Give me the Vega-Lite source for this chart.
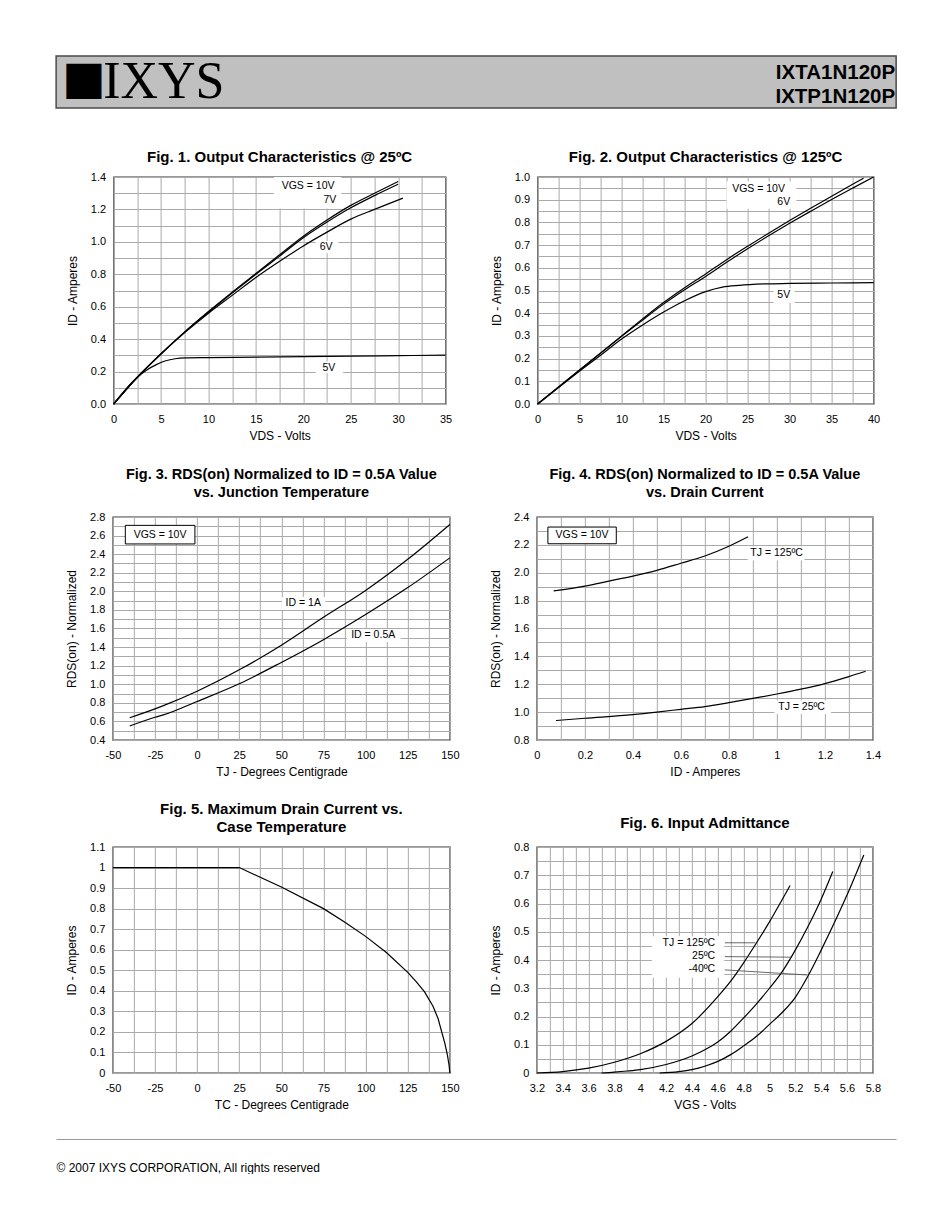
{
  "$schema": "https://vega.github.io/schema/vega-lite/v6.json",
  "background": "white",
  "padding": {"left": 55, "top": 55, "right": 0, "bottom": 0},
  "config": {
    "font": "Liberation Sans",
    "view": {"stroke": "#333", "strokeWidth": 1.3},
    "axis": {"grid": true, "gridColor": "#aaa", "gridWidth": 1, "ticks": false, "domain": false, "labelFont": "Liberation Sans", "labelFontSize": 11, "labelColor": "#000", "titleFont": "Liberation Sans", "titleFontSize": 12, "titleFontWeight": "normal", "titleColor": "#000", "labelOverlap": false, "labelFlush": false, "labelBound": false},
    "axisX": {"labelPadding": 9, "titlePadding": 6},
    "axisY": {"labelPadding": 8, "titlePadding": 11},
    "title": {"font": "Liberation Sans", "fontSize": 15, "fontWeight": "bold", "color": "#000", "lineHeight": 18, "anchor": "middle", "frame": "group"},
    "line": {"color": "#000", "strokeWidth": 1.2},
    "text": {"font": "Liberation Sans", "fontSize": 10.5, "color": "#000"}
  },
  "datasets": {
    "header": [
      {"part": "mark", "side": "left", "t": "■"},
      {"part": "name", "side": "left", "t": "IXYS"},
      {"part": "pn", "side": "right", "t": ["IXTA1N120P", "IXTP1N120P"]},
      {"part": "pad", "side": "right", "t": "."}
    ],
    "f1": [
      {"s": "10V", "x": 0, "y": 0}, {"s": "10V", "x": 2.5, "y": 0.165}, {"s": "10V", "x": 5, "y": 0.31}, {"s": "10V", "x": 7.5, "y": 0.445}, {"s": "10V", "x": 10, "y": 0.57}, {"s": "10V", "x": 12.5, "y": 0.69}, {"s": "10V", "x": 15, "y": 0.805}, {"s": "10V", "x": 17.5, "y": 0.92}, {"s": "10V", "x": 20, "y": 1.035}, {"s": "10V", "x": 22.5, "y": 1.135}, {"s": "10V", "x": 25, "y": 1.225}, {"s": "10V", "x": 27.5, "y": 1.3}, {"s": "10V", "x": 30, "y": 1.372},
      {"s": "7V", "x": 0, "y": 0}, {"s": "7V", "x": 2.5, "y": 0.165}, {"s": "7V", "x": 5, "y": 0.31}, {"s": "7V", "x": 7.5, "y": 0.445}, {"s": "7V", "x": 10, "y": 0.567}, {"s": "7V", "x": 12.5, "y": 0.685}, {"s": "7V", "x": 15, "y": 0.8}, {"s": "7V", "x": 17.5, "y": 0.912}, {"s": "7V", "x": 20, "y": 1.025}, {"s": "7V", "x": 22.5, "y": 1.122}, {"s": "7V", "x": 25, "y": 1.21}, {"s": "7V", "x": 27.5, "y": 1.285}, {"s": "7V", "x": 30, "y": 1.355},
      {"s": "6V", "x": 0, "y": 0}, {"s": "6V", "x": 2.5, "y": 0.165}, {"s": "6V", "x": 5, "y": 0.308}, {"s": "6V", "x": 7.5, "y": 0.44}, {"s": "6V", "x": 10, "y": 0.56}, {"s": "6V", "x": 12.5, "y": 0.67}, {"s": "6V", "x": 15, "y": 0.78}, {"s": "6V", "x": 17.5, "y": 0.88}, {"s": "6V", "x": 20, "y": 0.975}, {"s": "6V", "x": 22.5, "y": 1.06}, {"s": "6V", "x": 25, "y": 1.14}, {"s": "6V", "x": 27.5, "y": 1.2}, {"s": "6V", "x": 30.5, "y": 1.27},
      {"s": "5V", "x": 0, "y": 0}, {"s": "5V", "x": 2.5, "y": 0.165}, {"s": "5V", "x": 3.5, "y": 0.21}, {"s": "5V", "x": 4.5, "y": 0.243}, {"s": "5V", "x": 5.5, "y": 0.267}, {"s": "5V", "x": 6.5, "y": 0.279}, {"s": "5V", "x": 7.5, "y": 0.284}, {"s": "5V", "x": 10, "y": 0.286}, {"s": "5V", "x": 15, "y": 0.289}, {"s": "5V", "x": 20, "y": 0.292}, {"s": "5V", "x": 25, "y": 0.295}, {"s": "5V", "x": 30, "y": 0.298}, {"s": "5V", "x": 35, "y": 0.302}
    ],
    "f1bg": [
      {"x": 16.9, "x2": 24.0, "y": 1.205, "y2": 1.4},
      {"x": 21.3, "x2": 23.7, "y": 0.93, "y2": 1.005},
      {"x": 21.3, "x2": 24.2, "y": 0.19, "y2": 0.262}
    ],
    "f1lab": [
      {"x": 20.5, "y": 1.342, "t": "VGS = 10V"},
      {"x": 22.8, "y": 1.257, "t": "7V"},
      {"x": 22.4, "y": 0.968, "t": "6V"},
      {"x": 22.7, "y": 0.225, "t": "5V"}
    ],
    "f2": [
      {"s": "10V", "x": 0, "y": 0}, {"s": "10V", "x": 2.5, "y": 0.075}, {"s": "10V", "x": 5, "y": 0.15}, {"s": "10V", "x": 7.5, "y": 0.225}, {"s": "10V", "x": 10, "y": 0.3}, {"s": "10V", "x": 12.5, "y": 0.375}, {"s": "10V", "x": 15, "y": 0.447}, {"s": "10V", "x": 17.5, "y": 0.512}, {"s": "10V", "x": 20, "y": 0.573}, {"s": "10V", "x": 22.5, "y": 0.636}, {"s": "10V", "x": 25, "y": 0.695}, {"s": "10V", "x": 27.5, "y": 0.752}, {"s": "10V", "x": 30, "y": 0.808}, {"s": "10V", "x": 32.5, "y": 0.862}, {"s": "10V", "x": 35, "y": 0.915}, {"s": "10V", "x": 37.5, "y": 0.968}, {"s": "10V", "x": 38.8, "y": 0.995},
      {"s": "6V", "x": 0, "y": 0}, {"s": "6V", "x": 2.5, "y": 0.075}, {"s": "6V", "x": 5, "y": 0.15}, {"s": "6V", "x": 7.5, "y": 0.224}, {"s": "6V", "x": 10, "y": 0.298}, {"s": "6V", "x": 12.5, "y": 0.37}, {"s": "6V", "x": 15, "y": 0.44}, {"s": "6V", "x": 17.5, "y": 0.503}, {"s": "6V", "x": 20, "y": 0.562}, {"s": "6V", "x": 22.5, "y": 0.624}, {"s": "6V", "x": 25, "y": 0.684}, {"s": "6V", "x": 27.5, "y": 0.741}, {"s": "6V", "x": 30, "y": 0.796}, {"s": "6V", "x": 32.5, "y": 0.849}, {"s": "6V", "x": 35, "y": 0.901}, {"s": "6V", "x": 37.5, "y": 0.951}, {"s": "6V", "x": 40, "y": 1.0},
      {"s": "5V", "x": 0, "y": 0}, {"s": "5V", "x": 2.5, "y": 0.073}, {"s": "5V", "x": 5, "y": 0.145}, {"s": "5V", "x": 7.5, "y": 0.215}, {"s": "5V", "x": 10, "y": 0.286}, {"s": "5V", "x": 12.5, "y": 0.348}, {"s": "5V", "x": 15, "y": 0.405}, {"s": "5V", "x": 17.5, "y": 0.455}, {"s": "5V", "x": 20, "y": 0.495}, {"s": "5V", "x": 22, "y": 0.515}, {"s": "5V", "x": 24, "y": 0.523}, {"s": "5V", "x": 27, "y": 0.529}, {"s": "5V", "x": 30, "y": 0.531}, {"s": "5V", "x": 35, "y": 0.533}, {"s": "5V", "x": 40, "y": 0.535}
    ],
    "f2bg": [
      {"x": 22.5, "x2": 30.8, "y": 0.86, "y2": 0.98},
      {"x": 28.1, "x2": 30.6, "y": 0.445, "y2": 0.51}
    ],
    "f2lab": [
      {"x": 26.3, "y": 0.948, "t": "VGS = 10V"},
      {"x": 29.3, "y": 0.891, "t": "6V"},
      {"x": 29.3, "y": 0.48, "t": "5V"}
    ],
    "f3": [
      {"s": "1A", "x": -40, "y": 0.64}, {"s": "1A", "x": -25, "y": 0.735}, {"s": "1A", "x": -20, "y": 0.77}, {"s": "1A", "x": 0, "y": 0.925}, {"s": "1A", "x": 25, "y": 1.155}, {"s": "1A", "x": 50, "y": 1.42}, {"s": "1A", "x": 75, "y": 1.72}, {"s": "1A", "x": 100, "y": 2.01}, {"s": "1A", "x": 125, "y": 2.345}, {"s": "1A", "x": 150, "y": 2.72},
      {"s": "0.5A", "x": -40, "y": 0.55}, {"s": "0.5A", "x": -25, "y": 0.645}, {"s": "0.5A", "x": -20, "y": 0.67}, {"s": "0.5A", "x": 0, "y": 0.815}, {"s": "0.5A", "x": 25, "y": 1.005}, {"s": "0.5A", "x": 50, "y": 1.235}, {"s": "0.5A", "x": 75, "y": 1.48}, {"s": "0.5A", "x": 100, "y": 1.75}, {"s": "0.5A", "x": 125, "y": 2.04}, {"s": "0.5A", "x": 150, "y": 2.36}
    ],
    "f3bg": [
      {"x": 50.3, "x2": 76.1, "y": 1.8, "y2": 1.94},
      {"x": 89, "x2": 120.8, "y": 1.455, "y2": 1.595}
    ],
    "f3box": [
      {"x": -42.6, "x2": -1.3, "y": 2.51, "y2": 2.71}
    ],
    "f3lab": [
      {"x": 63, "y": 1.878, "t": "ID = 1A"},
      {"x": 104.5, "y": 1.53, "t": "ID = 0.5A"},
      {"x": -22, "y": 2.61, "t": "VGS = 10V"}
    ],
    "f4": [
      {"s": "125", "x": 0.07, "y": 1.87}, {"s": "125", "x": 0.2, "y": 1.904}, {"s": "125", "x": 0.3, "y": 1.94}, {"s": "125", "x": 0.4, "y": 1.976}, {"s": "125", "x": 0.5, "y": 2.017}, {"s": "125", "x": 0.6, "y": 2.068}, {"s": "125", "x": 0.7, "y": 2.12}, {"s": "125", "x": 0.8, "y": 2.19}, {"s": "125", "x": 0.88, "y": 2.258},
      {"s": "25", "x": 0.08, "y": 0.94}, {"s": "25", "x": 0.2, "y": 0.956}, {"s": "25", "x": 0.4, "y": 0.982}, {"s": "25", "x": 0.5, "y": 1.0}, {"s": "25", "x": 0.6, "y": 1.02}, {"s": "25", "x": 0.7, "y": 1.04}, {"s": "25", "x": 0.8, "y": 1.068}, {"s": "25", "x": 0.9, "y": 1.098}, {"s": "25", "x": 1.0, "y": 1.13}, {"s": "25", "x": 1.1, "y": 1.165}, {"s": "25", "x": 1.2, "y": 1.205}, {"s": "25", "x": 1.3, "y": 1.255}, {"s": "25", "x": 1.37, "y": 1.293}
    ],
    "f4bg": [
      {"x": 0.879, "x2": 1.115, "y": 2.089, "y2": 2.189},
      {"x": 0.99, "x2": 1.226, "y": 0.987, "y2": 1.083}
    ],
    "f4box": [
      {"x": 0.046, "x2": 0.331, "y": 2.208, "y2": 2.328}
    ],
    "f4lab": [
      {"x": 0.999, "y": 2.144, "t": "TJ = 125ºC"},
      {"x": 1.103, "y": 1.039, "t": "TJ = 25ºC"},
      {"x": 0.188, "y": 2.268, "t": "VGS = 10V"}
    ],
    "f5": [
      {"x": -50, "y": 1.0}, {"x": 25, "y": 1.0}, {"x": 50, "y": 0.905}, {"x": 75, "y": 0.8}, {"x": 87.5, "y": 0.735}, {"x": 100, "y": 0.665}, {"x": 112.5, "y": 0.585}, {"x": 125, "y": 0.49}, {"x": 130, "y": 0.445}, {"x": 135, "y": 0.395}, {"x": 140, "y": 0.325}, {"x": 143, "y": 0.265}, {"x": 145, "y": 0.205}, {"x": 147, "y": 0.145}, {"x": 148.5, "y": 0.09}, {"x": 149.5, "y": 0.04}, {"x": 150, "y": 0.0}
    ],
    "f6": [
      {"s": "125", "x": 3.2, "y": 0}, {"s": "125", "x": 3.4, "y": 0.005}, {"s": "125", "x": 3.6, "y": 0.017}, {"s": "125", "x": 3.8, "y": 0.038}, {"s": "125", "x": 4.0, "y": 0.068}, {"s": "125", "x": 4.2, "y": 0.112}, {"s": "125", "x": 4.4, "y": 0.175}, {"s": "125", "x": 4.6, "y": 0.27}, {"s": "125", "x": 4.7, "y": 0.325}, {"s": "125", "x": 4.8, "y": 0.39}, {"s": "125", "x": 4.9, "y": 0.461}, {"s": "125", "x": 5.0, "y": 0.535}, {"s": "125", "x": 5.1, "y": 0.615}, {"s": "125", "x": 5.16, "y": 0.664},
      {"s": "25", "x": 3.7, "y": 0}, {"s": "25", "x": 3.8, "y": 0.003}, {"s": "25", "x": 3.9, "y": 0.007}, {"s": "25", "x": 4.0, "y": 0.012}, {"s": "25", "x": 4.2, "y": 0.03}, {"s": "25", "x": 4.4, "y": 0.06}, {"s": "25", "x": 4.5, "y": 0.082}, {"s": "25", "x": 4.6, "y": 0.11}, {"s": "25", "x": 4.7, "y": 0.148}, {"s": "25", "x": 4.8, "y": 0.195}, {"s": "25", "x": 4.9, "y": 0.245}, {"s": "25", "x": 5.0, "y": 0.3}, {"s": "25", "x": 5.1, "y": 0.36}, {"s": "25", "x": 5.2, "y": 0.435}, {"s": "25", "x": 5.3, "y": 0.52}, {"s": "25", "x": 5.4, "y": 0.615}, {"s": "25", "x": 5.49, "y": 0.713},
      {"s": "-40", "x": 4.15, "y": 0}, {"s": "-40", "x": 4.3, "y": 0.005}, {"s": "-40", "x": 4.4, "y": 0.012}, {"s": "-40", "x": 4.5, "y": 0.024}, {"s": "-40", "x": 4.6, "y": 0.041}, {"s": "-40", "x": 4.7, "y": 0.065}, {"s": "-40", "x": 4.8, "y": 0.096}, {"s": "-40", "x": 4.9, "y": 0.13}, {"s": "-40", "x": 5.0, "y": 0.172}, {"s": "-40", "x": 5.1, "y": 0.215}, {"s": "-40", "x": 5.2, "y": 0.268}, {"s": "-40", "x": 5.3, "y": 0.345}, {"s": "-40", "x": 5.4, "y": 0.435}, {"s": "-40", "x": 5.5, "y": 0.53}, {"s": "-40", "x": 5.6, "y": 0.63}, {"s": "-40", "x": 5.73, "y": 0.772}
    ],
    "f6bg": [
      {"x": 4.09, "x2": 4.65, "y": 0.337, "y2": 0.484}
    ],
    "f6lead": [
      {"x": 4.655, "x2": 4.89, "y": 0.461, "y2": 0.461},
      {"x": 4.655, "x2": 5.17, "y": 0.412, "y2": 0.41},
      {"x": 4.655, "x2": 5.29, "y": 0.365, "y2": 0.347}
    ],
    "f6lab": [
      {"x": 4.58, "y": 0.459, "t": "TJ = 125ºC"},
      {"x": 4.58, "y": 0.413, "t": "25ºC"},
      {"x": 4.58, "y": 0.367, "t": "-40ºC"}
    ],
    "footer": [{"t": "."}]
  },
  "vconcat": [
    {
      "width": 840,
      "height": 52,
      "view": {"fill": "#c0c0c0", "stroke": "#4a4a4a", "strokeWidth": 1.5},
      "data": {"name": "header"},
      "encoding": {
        "x": {"field": "side", "type": "nominal", "scale": {"type": "point", "domain": ["left", "right"], "padding": 0}, "axis": null},
        "text": {"field": "t", "type": "nominal"}
      },
      "layer": [
        {"transform": [{"filter": "datum.part == 'mark'"}], "mark": {"type": "text", "font": "DejaVu Sans", "fontSize": 46, "align": "left", "baseline": "middle", "dx": 6, "dy": -3, "color": "#000"}},
        {"transform": [{"filter": "datum.part == 'name'"}], "mark": {"type": "text", "font": "Liberation Serif", "fontSize": 52, "align": "left", "baseline": "middle", "dx": 47, "dy": 0, "color": "#000"}},
        {"transform": [{"filter": "datum.part == 'pn'"}], "mark": {"type": "text", "font": "Liberation Sans", "fontWeight": "bold", "fontSize": 20.5, "align": "right", "baseline": "middle", "dx": -1, "dy": -9, "lineHeight": 24, "color": "#000"}},
        {"transform": [{"filter": "datum.part == 'pad'"}], "mark": {"type": "text", "fontSize": 10, "align": "right", "baseline": "middle", "dx": 41, "opacity": 0}}
      ]
    },
    {
      "hconcat": [
        {
          "width": 332,
          "height": 227,
          "title": {"text": ["", "Fig. 1. Output Characteristics @ 25ºC"], "offset": 6, "lineHeight": 17},
          "encoding": {
            "x": {"field": "x", "type": "quantitative", "scale": {"domain": [0, 35], "nice": false, "zero": false}, "axis": {"title": "VDS - Volts", "values": [0, 2.5, 5, 7.5, 10, 12.5, 15, 17.5, 20, 22.5, 25, 27.5, 30, 32.5, 35], "labelExpr": "datum.value % 5 == 0 ? '' + datum.value : ''"}},
            "y": {"field": "y", "type": "quantitative", "scale": {"domain": [0, 1.4], "nice": false, "zero": false}, "axis": {"title": "ID - Amperes", "values": [0, 0.1, 0.2, 0.3, 0.4, 0.5, 0.6, 0.7, 0.8, 0.9, 1.0, 1.1, 1.2, 1.3, 1.4], "labelExpr": "abs(datum.value * 5 - round(datum.value * 5)) < 0.000001 ? format(datum.value, '.1f') : ''"}}
          },
          "layer": [
            {"data": {"name": "f1bg"}, "mark": {"type": "rect", "color": "white"}, "encoding": {"x2": {"field": "x2"}, "y2": {"field": "y2"}}},
            {"data": {"name": "f1"}, "mark": {"type": "line", "interpolate": "monotone"}, "encoding": {"detail": {"field": "s", "type": "nominal"}}},
            {"data": {"name": "f1lab"}, "mark": {"type": "text", "align": "center", "baseline": "middle"}, "encoding": {"text": {"field": "t", "type": "nominal"}}}
          ]
        },
        {
          "width": 336,
          "height": 227,
          "title": {"text": ["", "Fig. 2. Output Characteristics @ 125ºC"], "offset": 6, "lineHeight": 17},
          "encoding": {
            "x": {"field": "x", "type": "quantitative", "scale": {"domain": [0, 40], "nice": false, "zero": false}, "axis": {"title": "VDS - Volts", "values": [0, 2.5, 5, 7.5, 10, 12.5, 15, 17.5, 20, 22.5, 25, 27.5, 30, 32.5, 35, 37.5, 40], "labelExpr": "datum.value % 5 == 0 ? '' + datum.value : ''"}},
            "y": {"field": "y", "type": "quantitative", "scale": {"domain": [0, 1.0], "nice": false, "zero": false}, "axis": {"title": "ID - Amperes", "values": [0, 0.05, 0.1, 0.15, 0.2, 0.25, 0.3, 0.35, 0.4, 0.45, 0.5, 0.55, 0.6, 0.65, 0.7, 0.75, 0.8, 0.85, 0.9, 0.95, 1.0], "labelExpr": "abs(datum.value * 10 - round(datum.value * 10)) < 0.000001 ? format(datum.value, '.1f') : ''"}}
          },
          "layer": [
            {"data": {"name": "f2bg"}, "mark": {"type": "rect", "color": "white"}, "encoding": {"x2": {"field": "x2"}, "y2": {"field": "y2"}}},
            {"data": {"name": "f2"}, "mark": {"type": "line", "interpolate": "monotone"}, "encoding": {"detail": {"field": "s", "type": "nominal"}}},
            {"data": {"name": "f2lab"}, "mark": {"type": "text", "align": "center", "baseline": "middle"}, "encoding": {"text": {"field": "t", "type": "nominal"}}}
          ]
        }
      ],
      "spacing": 92,
      "bounds": "flush"
    },
    {
      "hconcat": [
        {
          "width": 337,
          "height": 223,
          "title": {"text": ["Fig. 3. RDS(on) Normalized to ID = 0.5A Value", "vs. Junction Temperature"], "offset": 11, "fontSize": 14.5},
          "encoding": {
            "x": {"field": "x", "type": "quantitative", "scale": {"domain": [-50, 150], "nice": false, "zero": false}, "axis": {"title": "TJ - Degrees Centigrade", "values": [-50, -37.5, -25, -12.5, 0, 12.5, 25, 37.5, 50, 62.5, 75, 87.5, 100, 112.5, 125, 137.5, 150], "labelExpr": "datum.value % 25 == 0 ? '' + datum.value : ''"}},
            "y": {"field": "y", "type": "quantitative", "scale": {"domain": [0.4, 2.8], "nice": false, "zero": false}, "axis": {"title": "RDS(on) - Normalized", "values": [0.4, 0.5, 0.6, 0.7, 0.8, 0.9, 1.0, 1.1, 1.2, 1.3, 1.4, 1.5, 1.6, 1.7, 1.8, 1.9, 2.0, 2.1, 2.2, 2.3, 2.4, 2.5, 2.6, 2.7, 2.8], "labelExpr": "abs(datum.value * 5 - round(datum.value * 5)) < 0.000001 ? format(datum.value, '.1f') : ''"}}
          },
          "layer": [
            {"data": {"name": "f3bg"}, "mark": {"type": "rect", "color": "white"}, "encoding": {"x2": {"field": "x2"}, "y2": {"field": "y2"}}},
            {"data": {"name": "f3box"}, "mark": {"type": "rect", "fill": "white", "stroke": "#000", "strokeWidth": 1}, "encoding": {"x2": {"field": "x2"}, "y2": {"field": "y2"}}},
            {"data": {"name": "f3"}, "mark": {"type": "line", "interpolate": "monotone"}, "encoding": {"detail": {"field": "s", "type": "nominal"}}},
            {"data": {"name": "f3lab"}, "mark": {"type": "text", "align": "center", "baseline": "middle"}, "encoding": {"text": {"field": "t", "type": "nominal"}}}
          ]
        },
        {
          "width": 336,
          "height": 223,
          "title": {"text": ["Fig. 4. RDS(on) Normalized to ID = 0.5A Value", "vs. Drain Current"], "offset": 11, "fontSize": 14.5},
          "encoding": {
            "x": {"field": "x", "type": "quantitative", "scale": {"domain": [0, 1.4], "nice": false, "zero": false}, "axis": {"title": "ID - Amperes", "values": [0, 0.1, 0.2, 0.3, 0.4, 0.5, 0.6, 0.7, 0.8, 0.9, 1.0, 1.1, 1.2, 1.3, 1.4], "labelExpr": "abs(datum.value * 5 - round(datum.value * 5)) < 0.000001 ? '' + datum.value : ''"}},
            "y": {"field": "y", "type": "quantitative", "scale": {"domain": [0.8, 2.4], "nice": false, "zero": false}, "axis": {"title": "RDS(on) - Normalized", "values": [0.8, 0.9, 1.0, 1.1, 1.2, 1.3, 1.4, 1.5, 1.6, 1.7, 1.8, 1.9, 2.0, 2.1, 2.2, 2.3, 2.4], "labelExpr": "abs(datum.value * 5 - round(datum.value * 5)) < 0.000001 ? format(datum.value, '.1f') : ''"}}
          },
          "layer": [
            {"data": {"name": "f4bg"}, "mark": {"type": "rect", "color": "white"}, "encoding": {"x2": {"field": "x2"}, "y2": {"field": "y2"}}},
            {"data": {"name": "f4box"}, "mark": {"type": "rect", "fill": "white", "stroke": "#000", "strokeWidth": 1}, "encoding": {"x2": {"field": "x2"}, "y2": {"field": "y2"}}},
            {"data": {"name": "f4"}, "mark": {"type": "line", "interpolate": "monotone"}, "encoding": {"detail": {"field": "s", "type": "nominal"}}},
            {"data": {"name": "f4lab"}, "mark": {"type": "text", "align": "center", "baseline": "middle"}, "encoding": {"text": {"field": "t", "type": "nominal"}}}
          ]
        }
      ],
      "spacing": 87,
      "bounds": "flush"
    },
    {
      "hconcat": [
        {
          "width": 337,
          "height": 226,
          "title": {"text": ["Fig. 5. Maximum Drain Current vs.", "Case Temperature"], "offset": 6},
          "data": {"name": "f5"},
          "mark": {"type": "line"},
          "encoding": {
            "x": {"field": "x", "type": "quantitative", "scale": {"domain": [-50, 150], "nice": false, "zero": false}, "axis": {"title": "TC - Degrees Centigrade", "values": [-50, -37.5, -25, -12.5, 0, 12.5, 25, 37.5, 50, 62.5, 75, 87.5, 100, 112.5, 125, 137.5, 150], "labelExpr": "datum.value % 25 == 0 ? '' + datum.value : ''"}},
            "y": {"field": "y", "type": "quantitative", "scale": {"domain": [0, 1.1], "nice": false, "zero": false}, "axis": {"title": "ID - Amperes", "values": [0, 0.1, 0.2, 0.3, 0.4, 0.5, 0.6, 0.7, 0.8, 0.9, 1, 1.1], "labelExpr": "'' + datum.value"}}
          }
        },
        {
          "width": 336,
          "height": 226,
          "title": {"text": "Fig. 6. Input Admittance", "offset": 10},
          "encoding": {
            "x": {"field": "x", "type": "quantitative", "scale": {"domain": [3.2, 5.8], "nice": false, "zero": false}, "axis": {"title": "VGS - Volts", "values": [3.2, 3.3, 3.4, 3.5, 3.6, 3.7, 3.8, 3.9, 4, 4.1, 4.2, 4.3, 4.4, 4.5, 4.6, 4.7, 4.8, 4.9, 5, 5.1, 5.2, 5.3, 5.4, 5.5, 5.6, 5.7, 5.8], "labelExpr": "abs(datum.value * 5 - round(datum.value * 5)) < 0.000001 ? '' + datum.value : ''"}},
            "y": {"field": "y", "type": "quantitative", "scale": {"domain": [0, 0.8], "nice": false, "zero": false}, "axis": {"title": "ID - Amperes", "values": [0, 0.05, 0.1, 0.15, 0.2, 0.25, 0.3, 0.35, 0.4, 0.45, 0.5, 0.55, 0.6, 0.65, 0.7, 0.75, 0.8], "labelExpr": "abs(datum.value * 10 - round(datum.value * 10)) < 0.000001 ? '' + datum.value : ''"}}
          },
          "layer": [
            {"data": {"name": "f6bg"}, "mark": {"type": "rect", "color": "white"}, "encoding": {"x2": {"field": "x2"}, "y2": {"field": "y2"}}},
            {"data": {"name": "f6"}, "mark": {"type": "line", "interpolate": "monotone"}, "encoding": {"detail": {"field": "s", "type": "nominal"}}},
            {"data": {"name": "f6lead"}, "mark": {"type": "rule", "color": "#444", "strokeWidth": 0.8}, "encoding": {"x2": {"field": "x2"}, "y2": {"field": "y2"}}},
            {"data": {"name": "f6lab"}, "mark": {"type": "text", "align": "right", "baseline": "middle"}, "encoding": {"text": {"field": "t", "type": "nominal"}}}
          ]
        }
      ],
      "spacing": 87,
      "bounds": "flush"
    },
    {
      "width": 840,
      "height": 1,
      "view": {"fill": "#999", "stroke": null},
      "title": {"text": "© 2007 IXYS CORPORATION, All rights reserved", "orient": "bottom", "anchor": "start", "frame": "group", "offset": 18, "fontSize": 12, "fontWeight": "normal"},
      "data": {"name": "footer"},
      "mark": {"type": "text", "fontSize": 10, "align": "right", "dx": 461, "opacity": 0},
      "encoding": {"text": {"field": "t", "type": "nominal"}}
    }
  ],
  "spacing": 23,
  "center": true
}
